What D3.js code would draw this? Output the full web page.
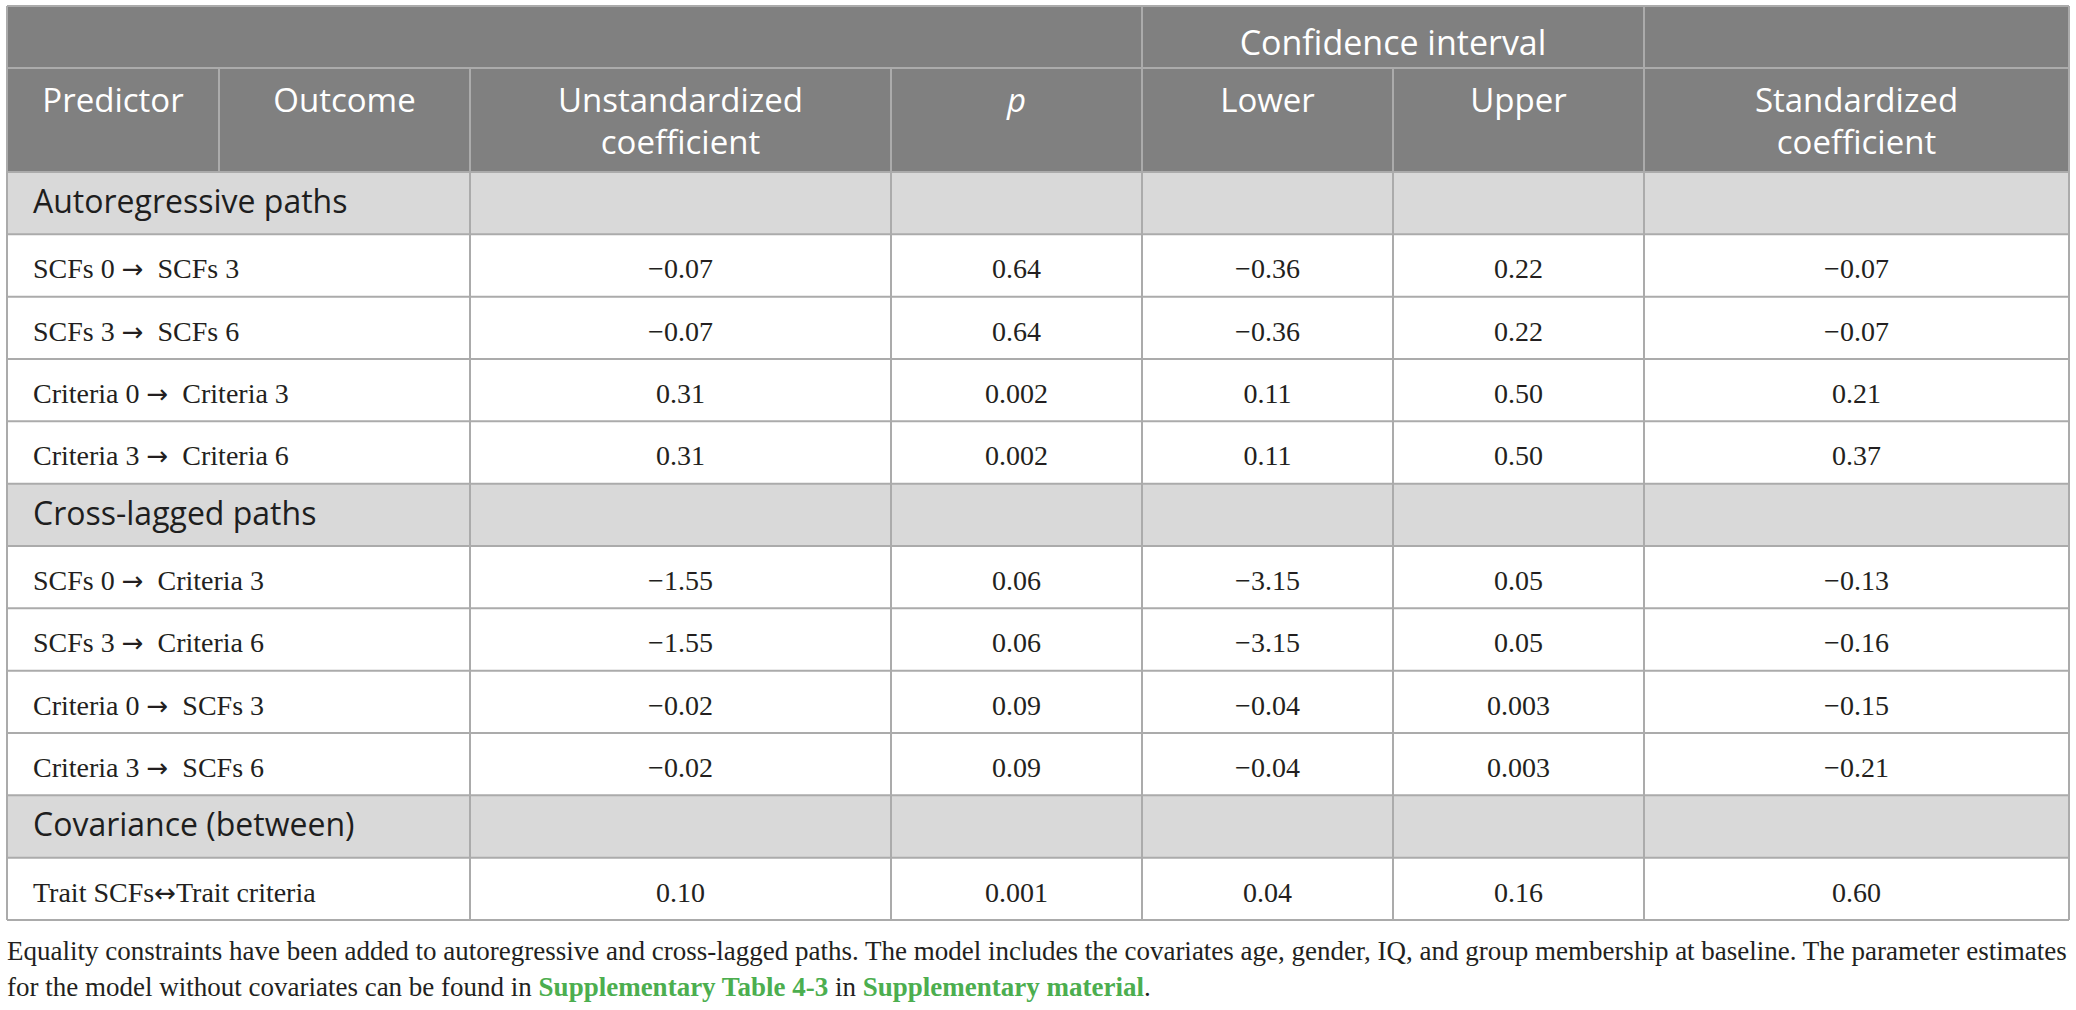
<!DOCTYPE html>
<html><head><meta charset="utf-8">
<script src="https://cdn.jsdelivr.net/npm/d3@7"></script>
<style>body{margin:0;background:#fff}text{white-space:pre}</style>
</head><body>
<svg id="c" width="2076" height="1010"></svg>
<script>
// ---- data ----
const headerGroup = ["Confidence interval"];
const columns = [["Predictor"], ["Outcome"], ["Unstandardized", "coefficient"], ["p"], ["Lower"], ["Upper"], ["Standardized", "coefficient"]];
const sections = ["Autoregressive paths", "Cross-lagged paths", "Covariance (between)"];
const sectionOf = [0, 0, 0, 0, 1, 1, 1, 1, 2];
const paths = ["SCFs 0 \u2192  SCFs 3", "SCFs 3 \u2192  SCFs 6", "Criteria 0 \u2192  Criteria 3", "Criteria 3 \u2192  Criteria 6",
  "SCFs 0 \u2192  Criteria 3", "SCFs 3 \u2192  Criteria 6", "Criteria 0 \u2192  SCFs 3", "Criteria 3 \u2192  SCFs 6",
  "Trait SCFs\u2194Trait criteria"];
const unstd = ["\u22120.07", "\u22120.07", "0.31", "0.31", "\u22121.55", "\u22121.55", "\u22120.02", "\u22120.02", "0.10"];
const pvals = ["0.64", "0.64", "0.002", "0.002", "0.06", "0.06", "0.09", "0.09", "0.001"];
const lower = ["\u22120.36", "\u22120.36", "0.11", "0.11", "\u22123.15", "\u22123.15", "\u22120.04", "\u22120.04", "0.04"];
const upper = ["0.22", "0.22", "0.50", "0.50", "0.05", "0.05", "0.003", "0.003", "0.16"];
const stdz = ["\u22120.07", "\u22120.07", "0.21", "0.37", "\u22120.13", "\u22120.16", "\u22120.15", "\u22120.21", "0.60"];
const noteLine1 = "Equality constraints have been added to autoregressive and cross-lagged paths. The model includes the covariates age, gender, IQ, and group membership at baseline. The parameter estimates";
const noteLine2 = [["for the model without covariates can be found in ", false], ["Supplementary Table 4-3", true], [" in ", false], ["Supplementary material", true], [".", false]];

// ---- layout ----
const svg = d3.select("#c");
const colEdges = [7, 219, 470, 891, 1142, 1393, 1644, 2069];
const xEdge = d3.scaleOrdinal().domain(d3.range(colEdges.length)).range(colEdges);
const xMid = i => (xEdge(i) + xEdge(i + 1)) / 2;
const tTop = 6, h1 = 68, h2 = 172, tBottom = 920;

const rows = [];
sections.forEach((s, si) => {
  rows.push({type: "section", label: s});
  sectionOf.forEach((v, i) => { if (v === si) rows.push({type: "data", i}); });
});
const y = d3.scaleBand().domain(d3.range(rows.length)).range([h2, tBottom]);

const LINE = "#ababab";
const SANS = "'Open Sans', 'Noto Sans', sans-serif";
const SERIF = "'Liberation Serif', 'DejaVu Serif', serif";
const INK = "#231f20";

svg.append("rect").attr("x", xEdge(0)).attr("y", tTop).attr("width", xEdge(7) - xEdge(0)).attr("height", h2 - tTop).attr("fill", "#808080");
rows.forEach((r, k) => {
  if (r.type === "section") svg.append("rect").attr("x", xEdge(0)).attr("y", y(k)).attr("width", xEdge(7) - xEdge(0)).attr("height", y.bandwidth()).attr("fill", "#d9d9d9");
});

const hLines = [tTop, h1, h2].concat(rows.map((r, k) => y(k) + y.bandwidth()));
svg.selectAll("line.h").data(hLines).join("line").attr("class", "h")
  .attr("x1", xEdge(0)).attr("x2", xEdge(7)).attr("y1", d => d).attr("y2", d => d)
  .attr("stroke", LINE).attr("stroke-width", 2);

function vlines(edges, y0, y1) {
  edges.forEach(e => svg.append("line").attr("x1", xEdge(e)).attr("x2", xEdge(e)).attr("y1", y0).attr("y2", y1).attr("stroke", LINE).attr("stroke-width", 2));
}
vlines([0, 4, 6, 7], tTop, h1);
vlines([0, 1, 2, 3, 4, 5, 6, 7], h1, h2);
vlines([0, 2, 3, 4, 5, 6, 7], h2, tBottom);

// header text
svg.append("text").attr("x", (xEdge(4) + xEdge(6)) / 2).attr("y", tTop + 49).attr("text-anchor", "middle")
  .attr("font-family", SANS).attr("font-size", 34).attr("fill", "#fff").text(headerGroup[0]);
columns.forEach((lines, ci) => {
  lines.forEach((ln, li) => {
    svg.append("text").attr("x", xMid(ci)).attr("y", h1 + 44 + li * 42).attr("text-anchor", "middle")
      .attr("font-family", SANS).attr("font-size", 33).attr("fill", "#fff")
      .attr("font-style", ln === "p" ? "italic" : "normal").text(ln);
  });
});

// body text
const valueCols = [unstd, pvals, lower, upper, stdz];
rows.forEach((r, k) => {
  const yy = y(k);
  if (r.type === "section") {
    svg.append("text").attr("x", 33).attr("y", yy + 41).attr("font-family", SANS).attr("font-size", 32).attr("fill", "#1e1e1e").text(r.label);
  } else {
    const t = svg.append("text").attr("x", 33).attr("y", yy + 44).attr("font-family", SERIF).attr("font-size", 28).attr("fill", INK);
    paths[r.i].split(/([\u2192\u2194])/).forEach(part => {
      if (part === "\u2192" || part === "\u2194") {
        t.append("tspan").attr("font-family", "'DejaVu Sans', sans-serif").attr("font-size", 26).text(part);
      } else if (part.length) {
        t.append("tspan").text(part);
      }
    });
    valueCols.forEach((arr, vi) => {
      svg.append("text").attr("x", xMid(vi + 2)).attr("y", yy + 44).attr("text-anchor", "middle")
        .attr("font-family", SERIF).attr("font-size", 28).attr("fill", INK).text(arr[r.i]);
    });
  }
});

// footnote
const n1 = svg.append("text").attr("x", 7).attr("y", 960).attr("font-family", SERIF).attr("font-size", 27).attr("fill", INK).text(noteLine1);
const w1 = n1.node().getComputedTextLength();
const fs = 27 * (2068 - 7) / w1;
n1.attr("font-size", fs);
const n2 = svg.append("text").attr("x", 7).attr("y", 996).attr("font-family", SERIF).attr("font-size", fs).attr("fill", INK);
noteLine2.forEach(([t, link]) => {
  n2.append("tspan").attr("fill", link ? "#4cae4f" : INK).attr("font-weight", link ? "bold" : "normal").text(t);
});
</script>
</body></html>
